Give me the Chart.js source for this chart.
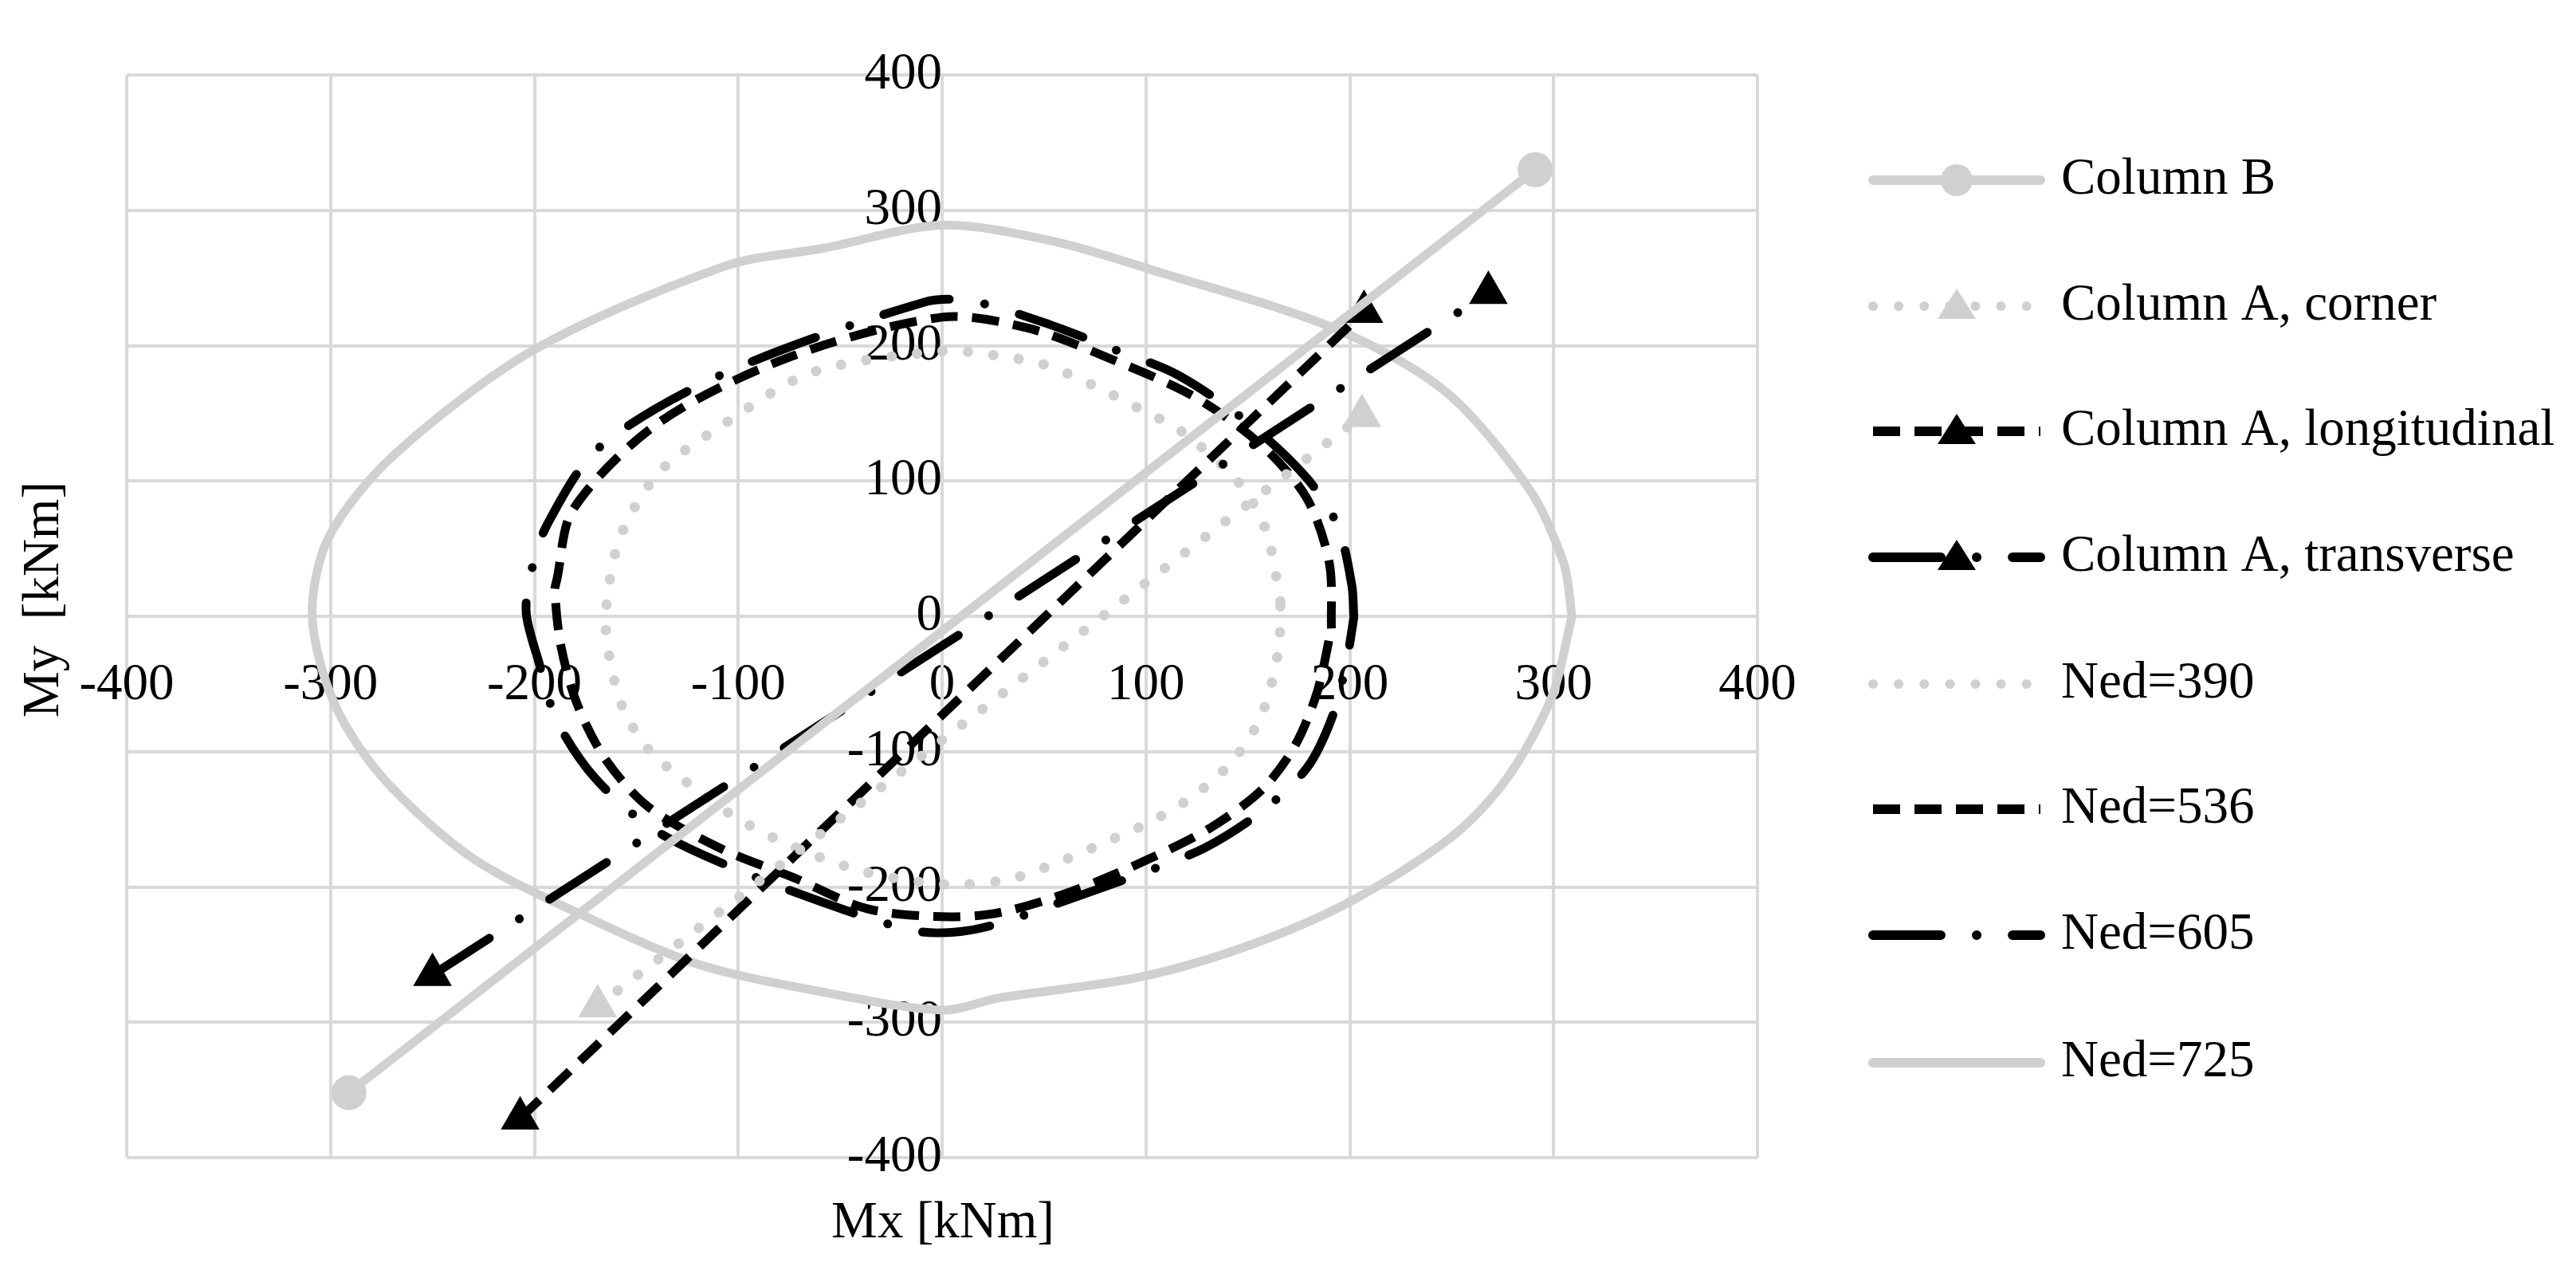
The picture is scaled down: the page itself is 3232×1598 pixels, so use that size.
<!DOCTYPE html>
<html>
<head>
<meta charset="utf-8">
<script src="https://cdn.jsdelivr.net/npm/chart.js@4"></script>
<style>
  body { margin: 0; background: #fff; }
  #wrap { width: 3232px; height: 1598px; }
</style>
</head>
<body>
<div id="wrap"><canvas id="myChart"></canvas></div>
<script>
const majorTicks = [-400, -300, -200, -100, 0, 100, 200, 300, 400];

const columnB = [[-291, -352], [291, 330]];
const columnACorner = [[-169, -288], [206, 148]];
const columnALong = [[-207, -371], [207, 225]];
const columnATrans = [[-250, -265], [268, 239]];

const ned390 = [[166, 11], [159, 63], [146, 98], [118, 136], [96, 154], [75, 170], [50, 186], [25, 193], [0, 196],
  [-64, 180], [-109, 140], [-139, 106], [-158, 58], [-165, 2], [-163, -32], [-156, -70], [-143, -100], [-125, -123],
  [-104, -146], [-78, -167], [-40, -188], [0, -198], [31, -195], [55, -183], [80, -167], [102, -152], [124, -132],
  [143, -106], [157, -72], [165, -25], [166, 11]];
const ned536 = [[191, -9], [190, 39], [179, 87], [157, 126], [124, 162], [83, 190], [42, 213], [0, 221],
  [-74, 192], [-139, 143], [-181, 79], [-189, 27], [-190, 19], [-187, -22], [-179, -65], [-165, -106], [-144, -141],
  [-108, -172], [-73, -193], [-37, -216], [0, -222], [28, -219], [64, -203], [102, -179], [132, -156], [157, -128],
  [173, -96], [184, -56], [191, -9]];
const ned605 = [[202, -1], [201, 23], [194, 67], [179, 102], [151, 142], [116, 178], [83, 198], [50, 217], [14, 233],
  [-9, 232], [-106, 180], [-168, 125], [-194, 67], [-202, 30], [-204, 2], [-198, -33], [-189, -77], [-170, -120],
  [-141, -158], [-96, -190], [-42, -220], [-11, -233], [9, -233], [28, -227], [55, -213], [96, -191], [129, -171],
  [157, -144], [179, -112], [191, -76], [198, -37], [202, -1]];
const ned725 = [[309, 0], [305, 39], [288, 94], [247, 166], [192, 213], [105, 255], [55, 277], [0, 289],
  [-58, 272], [-106, 259], [-200, 197], [-269, 119], [-301, 58], [-309, 0], [-298, -65], [-274, -120], [-231, -178],
  [-179, -219], [-120, -257], [-61, -277], [0, -291], [28, -282], [96, -267], [151, -243], [200, -211], [250, -163],
  [277, -120], [299, -60], [309, 0]];

const GREY = '#d0d0d0';
const DOT = [0.1, 32];
const DASH = [34, 18];
const DASHDOT = [85, 45, 0.1, 45];

function pts(arr) { return arr.map(p => ({ x: p[0], y: p[1] })); }

const datasets = [
  { label: 'Column B', data: pts(columnB), borderColor: GREY, backgroundColor: GREY, borderWidth: 11,
    pointStyle: 'circle', pointRadius: 22, dash: [], cap: 'round' },
  { label: 'Column A, corner', data: pts(columnACorner), borderColor: GREY, backgroundColor: GREY, borderWidth: 13,
    pointStyle: 'triangle', pointRadius: 28, dash: DOT, cap: 'round' },
  { label: 'Column A, longitudinal', data: pts(columnALong), borderColor: '#000', backgroundColor: '#000', borderWidth: 11,
    pointStyle: 'triangle', pointRadius: 28, dash: DASH, cap: 'butt' },
  { label: 'Column A, transverse', data: pts(columnATrans), borderColor: '#000', backgroundColor: '#000', borderWidth: 11,
    pointStyle: 'triangle', pointRadius: 28, dash: DASHDOT, cap: 'round' },
  { label: 'Ned=390', data: pts(ned390), borderColor: GREY, borderWidth: 13, pointRadius: 0, dash: DOT, cap: 'round' },
  { label: 'Ned=536', data: pts(ned536), borderColor: '#000', borderWidth: 11, pointRadius: 0, dash: DASH, cap: 'butt' },
  { label: 'Ned=605', data: pts(ned605), borderColor: '#000', borderWidth: 11, pointRadius: 0, dash: DASHDOT, cap: 'round' },
  { label: 'Ned=725', data: pts(ned725), borderColor: GREY, borderWidth: 11, pointRadius: 0, dash: [], cap: 'round' }
].map(d => Object.assign(d, {
  showLine: true, fill: false, tension: 0.3, borderDash: d.dash, borderCapStyle: d.cap,
  borderJoinStyle: 'round', pointBorderWidth: 0, pointHoverRadius: d.pointRadius
}));

const FONT = '"Liberation Serif", "DejaVu Serif", serif';

const extras = {
  id: 'extras',
  afterDraw(chart) {
    const c = chart.ctx;
    c.save();
    c.fillStyle = '#000';
    c.font = '65px ' + FONT;
    c.textAlign = 'center';
    c.textBaseline = 'middle';
    c.fillText('Mx [kNm]', 1183, 1535);
    c.save();
    c.translate(56, 752);
    c.rotate(-Math.PI / 2);
    c.fillText('My  [kNm]', 0, 0);
    c.restore();

    const rows = [226, 384, 541, 699, 858, 1015, 1173, 1333];
    datasets.forEach((d, i) => {
      const y = rows[i];
      c.save();
      c.strokeStyle = d.borderColor;
      c.lineWidth = 12;
      c.lineCap = d.cap;
      c.setLineDash(d.dash);
      c.beginPath();
      c.moveTo(2350, y);
      c.lineTo(2560, y);
      c.stroke();
      c.restore();
      if (d.pointRadius > 0) {
        c.fillStyle = d.backgroundColor;
        c.beginPath();
        if (d.pointStyle === 'circle') {
          c.arc(2455, y, 20, 0, Math.PI * 2);
        } else {
          c.moveTo(2455, y - 22);
          c.lineTo(2479, y + 16);
          c.lineTo(2431, y + 16);
          c.closePath();
        }
        c.fill();
      }
      c.fillStyle = '#000';
      c.textAlign = 'left';
      c.fillText(d.label, 2586, y);
    });
    c.restore();
  }
};

function axis(isX) {
  return {
    type: 'linear',
    min: -400, max: 400,
    position: isX ? { y: 0 } : { x: 0 },
    grid: {
      drawTicks: false,
      color: ctx => (ctx.tick && majorTicks.includes(ctx.tick.value)) ? '#d9d9d9' : '#efefef',
      lineWidth: ctx => (ctx.tick && majorTicks.includes(ctx.tick.value)) ? 4 : 3
    },
    border: { display: true, color: '#d9d9d9', width: 4 },
    ticks: {
      stepSize: 20,
      autoSkip: false,
      maxRotation: 0,
      padding: isX ? 48 : 55,
      color: '#000',
      font: { family: FONT, size: 65 },
      callback: v => majorTicks.includes(v) ? String(v) : null
    }
  };
}

const ctx = document.getElementById('myChart').getContext('2d');
const myChart = new Chart(ctx, {
  type: 'scatter',
  data: { datasets: datasets },
  options: {
    responsive: true,
    maintainAspectRatio: false,
    devicePixelRatio: 1,
    animation: false,
    layout: { padding: { left: 159, right: 1027, top: 50, bottom: 146 } },
    scales: { x: axis(true), y: axis(false) },
    plugins: { legend: { display: false }, tooltip: { enabled: false } }
  },
  plugins: [extras]
});
</script>
</body>
</html>
